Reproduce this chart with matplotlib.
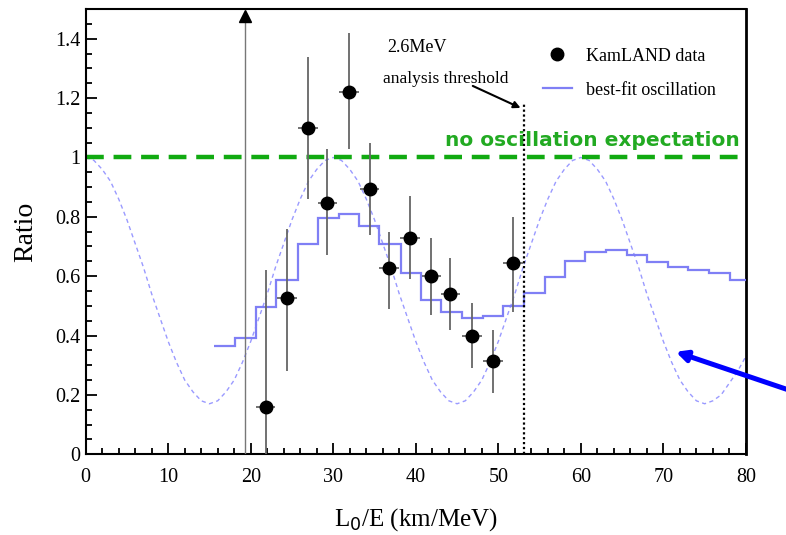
import numpy as np
import matplotlib
matplotlib.use('Agg')
import matplotlib.pyplot as plt
from matplotlib.ticker import MultipleLocator

# KamLAND data points (L0/E, ratio, errors)
data_x = [21.8, 24.4, 26.9, 29.3, 31.9, 34.4, 36.8, 39.3, 41.9, 44.2, 46.8, 49.4, 51.8]
data_y = [0.16, 0.525, 1.10, 0.848, 1.22, 0.895, 0.626, 0.73, 0.60, 0.54, 0.40, 0.313, 0.643]
err_lo = [0.16, 0.245, 0.24, 0.178, 0.19, 0.155, 0.136, 0.14, 0.13, 0.12, 0.11, 0.108, 0.163]
err_hi = [0.46, 0.235, 0.24, 0.182, 0.20, 0.155, 0.124, 0.14, 0.13, 0.12, 0.11, 0.107, 0.157]
xerr = 1.2

# point with off-scale upper limit
lim_x = 19.3
lim_top = 1.478

# best-fit oscillation histogram
bin_edges = [15.5, 18.1, 20.6, 23.1, 25.7, 28.2, 30.7, 33.1, 35.6, 38.2, 40.6, 43.1, 45.6,
             48.1, 50.6, 53.1, 55.6, 58.1, 60.5, 63.1, 65.6, 68.0, 70.5, 73.0, 75.5, 78.1, 80.0]
bin_vals = [0.363, 0.39, 0.495, 0.586, 0.71, 0.797, 0.808, 0.768, 0.707, 0.61, 0.52, 0.478, 0.458,
            0.465, 0.498, 0.542, 0.596, 0.65, 0.68, 0.687, 0.673, 0.647, 0.63, 0.62, 0.61, 0.586]

# dashed oscillation curve, read every 1 km/MeV
curve_x = list(range(0, 81))
curve_y = [1.00, 0.99, 0.96, 0.92, 0.86, 0.79, 0.71, 0.63, 0.54, 0.46,
           0.38, 0.31, 0.25, 0.21, 0.18, 0.17, 0.18, 0.21, 0.25, 0.31,
           0.38, 0.46, 0.54, 0.63, 0.71, 0.79, 0.86, 0.92, 0.96, 0.99,
           1.00, 0.99, 0.96, 0.92, 0.86, 0.79, 0.71, 0.63, 0.54, 0.46,
           0.38, 0.31, 0.25, 0.21, 0.18, 0.17, 0.18, 0.21, 0.25, 0.31,
           0.38, 0.46, 0.54, 0.63, 0.71, 0.79, 0.86, 0.92, 0.96, 0.99,
           1.00, 0.99, 0.96, 0.92, 0.86, 0.79, 0.71, 0.63, 0.54, 0.46,
           0.38, 0.31, 0.25, 0.21, 0.18, 0.17, 0.18, 0.20, 0.24, 0.28,
           0.33]

threshold_x = 53.1
threshold_top = 1.18

serif = 'Liberation Serif'

fig = plt.figure(figsize=(7.86, 5.35), dpi=100)
ax = fig.add_axes([0.109, 0.151, 0.840, 0.832])

# no oscillation expectation
ax.axhline(1.0, color='#11aa11', lw=3.2, dashes=(4, 2.2), zorder=2, clip_on=False)
ax.text(79.3, 1.025, 'no oscillation expectation', color='#22aa22', fontsize=14.5,
        fontweight='bold', family='DejaVu Sans', ha='right', va='bottom')

# dashed curve
ax.plot(curve_x, curve_y, color='#9a9aff', lw=1.0, dashes=(3, 2.5), zorder=1)

# histogram
hist = ax.stairs(bin_vals, bin_edges, color='#7f7ff5', lw=1.6, baseline=None, zorder=3)

# threshold
ax.plot([threshold_x, threshold_x], [0, threshold_top], color='black', lw=1.6,
        linestyle=(0, (1, 1.2)), zorder=4)
ax.text(36.5, 1.37, '2.6MeV', fontsize=13, family=serif, ha='left', va='center')
ax.text(36.0, 1.265, 'analysis threshold', fontsize=12.5, family=serif, ha='left', va='center')
ax.annotate('', xy=(53.0, 1.163), xytext=(46.6, 1.245),
            arrowprops=dict(arrowstyle='-|>', color='black', lw=1.5, mutation_scale=10))

# off-scale point
ax.plot([lim_x, lim_x], [0, lim_top], color='#777777', lw=1.0, zorder=4)
ax.plot([lim_x], [lim_top], marker='^', color='black', ms=9, clip_on=False, zorder=5)

# data points
ax.errorbar(data_x, data_y, yerr=[err_lo, err_hi], xerr=xerr, fmt='none',
            ecolor='#666666', elinewidth=1.3, capsize=0, zorder=5)
pts, = ax.plot(data_x, data_y, 'o', color='black', ms=9, zorder=6)

# blue arrow pointing to the curve
ax.annotate('', xy=(71.5, 0.345), xytext=(88, 0.19), annotation_clip=False,
            arrowprops=dict(arrowstyle='-|>', color='#0000ff', lw=3.6, mutation_scale=16,
                            shrinkA=0, shrinkB=0))

ax.set_xlim(0, 80)
ax.set_ylim(0, 1.5)
ax.xaxis.set_major_locator(MultipleLocator(10))
ax.xaxis.set_minor_locator(MultipleLocator(2))
ax.yaxis.set_major_locator(MultipleLocator(0.2))
ax.yaxis.set_minor_locator(MultipleLocator(0.05))
ax.tick_params(which='both', direction='in', top=False, right=False, width=1.3)
ax.tick_params(which='major', length=8, labelsize=14.5, pad=10)
ax.tick_params(axis='y', which='major', pad=4)
ax.tick_params(which='minor', length=4)
ax.set_yticks([0, 0.2, 0.4, 0.6, 0.8, 1.0, 1.2, 1.4])
ax.set_yticklabels(['0', '0.2', '0.4', '0.6', '0.8', '1', '1.2', '1.4'])
for lab in ax.get_xticklabels() + ax.get_yticklabels():
    lab.set_family(serif)
for s in ax.spines.values():
    s.set_linewidth(1.5)
ax.spines['right'].set_linewidth(2)

ax.set_xlabel('L$_0$/E (km/MeV)', fontsize=18, family=serif, labelpad=14)
ax.set_ylabel('Ratio', fontsize=20, family=serif, labelpad=12)

leg = ax.legend([pts, hist], ['KamLAND data', 'best-fit oscillation'],
                loc='upper left', bbox_to_anchor=(0.668, 0.95), frameon=False,
                prop={'family': serif, 'size': 13}, handlelength=1.6,
                numpoints=1, labelspacing=0.95)

fig.savefig('out.png', dpi=100)
